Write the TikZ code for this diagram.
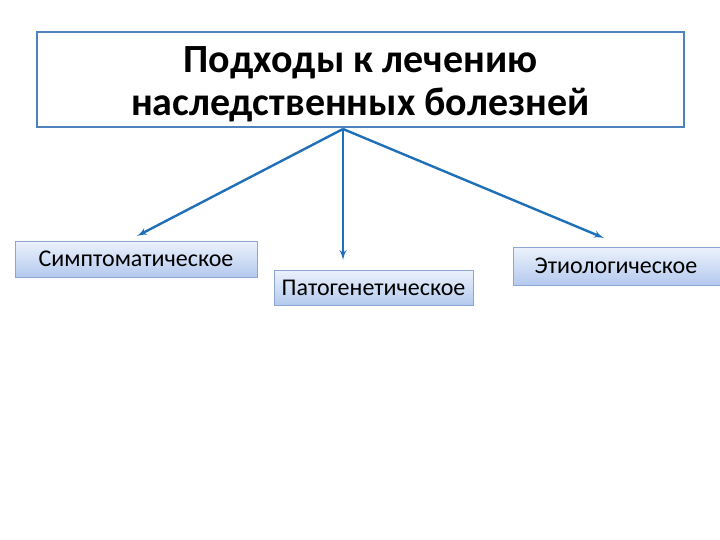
\documentclass[tikz,border=0pt]{standalone}
\usepackage{fontspec}
\setmainfont{Carlito}
\usetikzlibrary{arrows}
\definecolor{framecol}{RGB}{79,129,189}
\definecolor{arrowcol}{RGB}{31,112,184}
\definecolor{boxtop}{RGB}{236,242,252}
\definecolor{boxbot}{RGB}{180,201,238}
\definecolor{boxline}{RGB}{140,165,210}
\tikzset{
    kind/.style={draw=boxline,line width=0.8pt,top color=boxtop,bottom color=boxbot,
        inner sep=0pt,font=\fontsize{24}{26}\selectfont},
    branch/.style={->,arrowcol,line width=2.4pt},
}

\begin{document}
\begin{tikzpicture}[x=1pt,y=-1pt,style=thick,>=latex']

    \useasboundingbox[fill=white] (0,0) rectangle (720,540);

    \draw (360.5,79.5) node[draw=framecol,line width=2pt,minimum width=647pt,minimum height=95pt] (T) {};
    \node[align=center,font=\bfseries\fontsize{40}{43}\selectfont] (Ttext) at (360.5,84)
        {Подходы к лечению\\наследственных болезней};

    \node[kind,minimum width=242pt,minimum height=36pt] (S) at (136,259) {Симптоматическое};
    \node[kind,minimum width=199pt,minimum height=35pt] (P) at (373.5,287.5) {Патогенетическое};
    \node[kind,minimum width=214pt,minimum height=38pt] (E) at (620,266) {Этиологическое\hspace*{8pt}};

    \coordinate (O) at (343,129);
    \draw[branch] (O) to (137,236);
    \draw[branch] (O) to (343,260);
    \draw[branch] (O) to (604,238);

\end{tikzpicture}
\end{document}
